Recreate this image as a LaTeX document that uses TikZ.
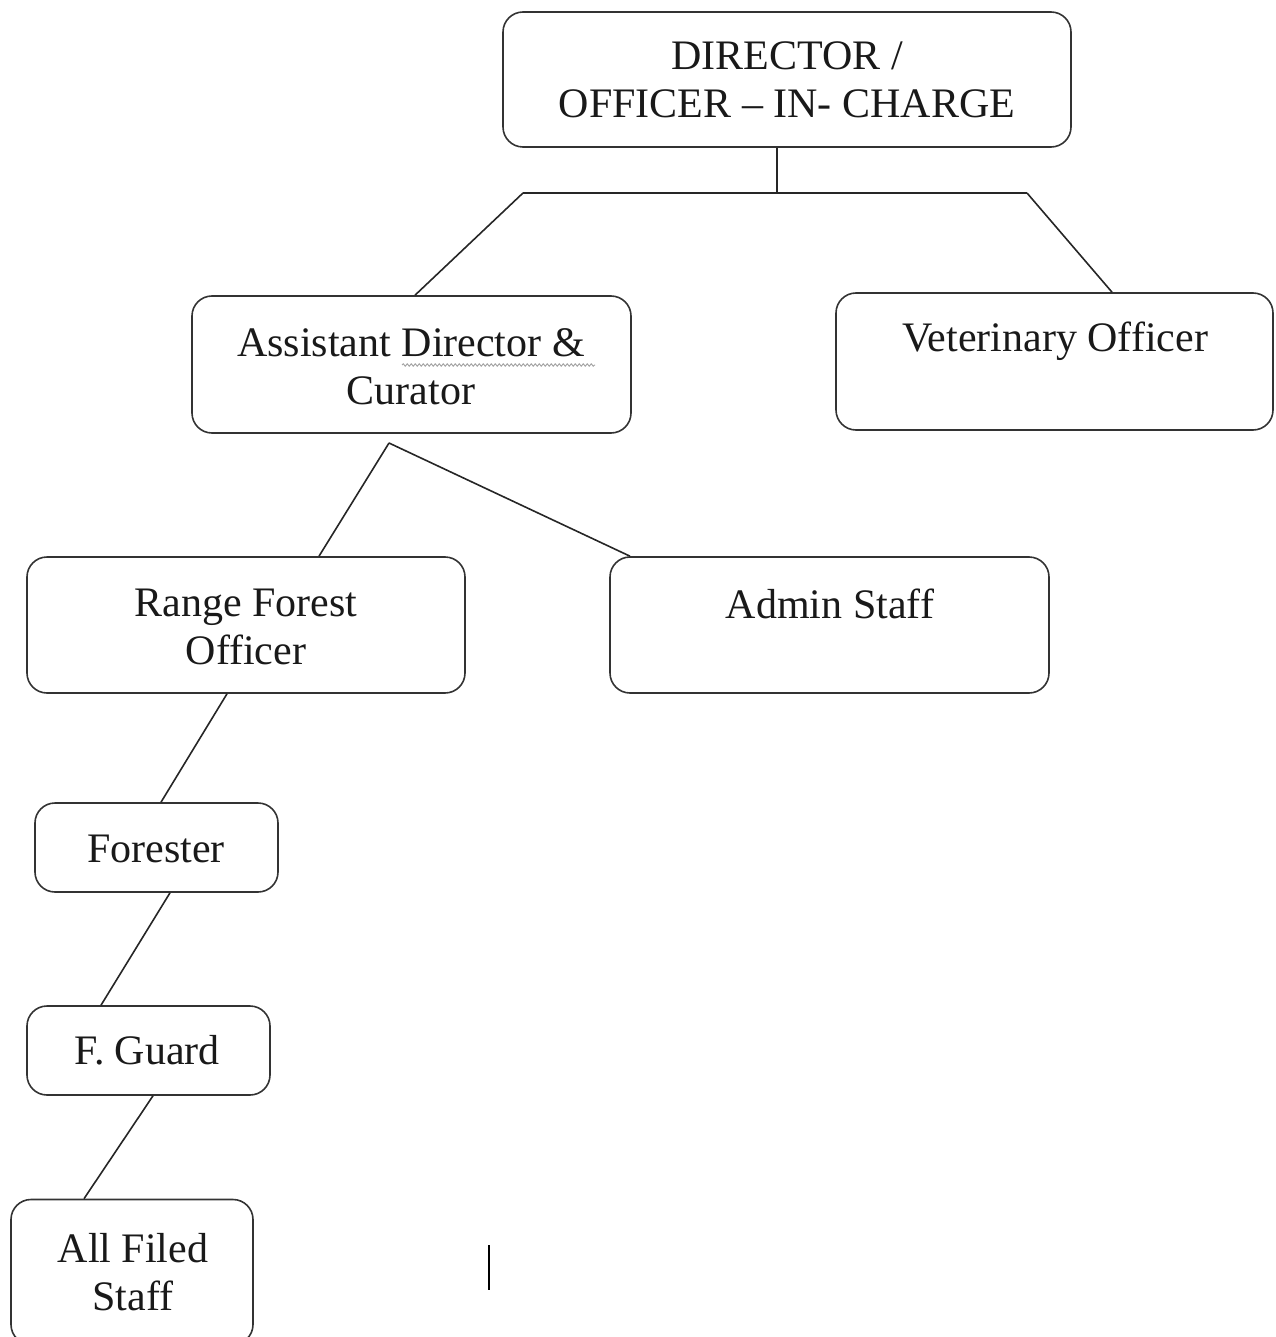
\documentclass[tikz,border=0pt]{standalone}
\usepackage{fontspec}
\setmainfont{Liberation Serif}
\usetikzlibrary{decorations.pathmorphing}
\begin{document}
\begin{tikzpicture}[x=1pt,y=-1pt,
  box/.style={draw=black!80,line width=1.6pt,rounded corners=20pt,inner sep=0pt},
  lbl/.style={align=center,font=\fontsize{42}{48}\selectfont,text=black!90,inner sep=0pt},
  conn/.style={draw=black!85,line width=1.6pt}]
\useasboundingbox (0,0) rectangle (1275,1337);
\begin{scope}
\clip (0,0) rectangle (1275,1337);
\node[box,minimum width=568pt,minimum height=135pt] (dir) at (787,79.5) {};
\node[box,minimum width=439pt,minimum height=137pt] (asst) at (411.5,364.5) {};
\node[box,minimum width=437pt,minimum height=137pt] (vet) at (1054.5,361.5) {};
\node[box,minimum width=438pt,minimum height=136pt] (rfo) at (246,625) {};
\node[box,minimum width=439pt,minimum height=136pt] (admin) at (829.5,625) {};
\node[box,minimum width=243pt,minimum height=89pt] (forester) at (156.5,847.5) {};
\node[box,minimum width=243pt,minimum height=89pt] (fguard) at (148.5,1050.5) {};
\node[box,minimum width=242pt,minimum height=145pt] (all) at (132,1272) {};
\end{scope}
\node[lbl] (tdir) at (787,80) {DIRECTOR /\\OFFICER -- IN- CHARGE};
\node[lbl] (tasst) at (411,367) {Assistant Director \&\\Curator};
\node[lbl] (tvet) at (1055,341) {Veterinary Officer};
\node[lbl] (trfo) at (246,627) {Range Forest\\Officer};
\node[lbl] (tadmin) at (830,604) {Admin Staff};
\node[lbl] (tfor) at (156,849) {Forester};
\node[lbl] (tfg) at (147,1050) {F. Guard};
\node[lbl] (tall) at (133,1272) {All Filed\\Staff};
% spell-check squiggle
\draw[gray!70,line width=1pt,decorate,decoration={snake,amplitude=1.2pt,segment length=4pt}] (402,365) -- (595,365);
% connectors
\coordinate (j) at (777,193);
\coordinate (jl) at (523,193);
\coordinate (jr) at (1027,193);
\coordinate (ja) at (389,443);
\draw[conn] ([xshift=-10pt]dir.south) -- (j);
\draw[conn] (jl) -- (jr);
\draw[conn] (jl) -- ([xshift=3.5pt]asst.north);
\draw[conn] (jr) -- ([xshift=57.5pt]vet.north);
\draw[conn] (ja) -- ([xshift=73pt]rfo.north);
\draw[conn] (ja) -- ([xshift=-199.5pt]admin.north);
\draw[conn] ([xshift=-19pt]rfo.south) -- ([xshift=4.5pt]forester.north);
\draw[conn] ([xshift=13.5pt]forester.south) -- ([xshift=-47.5pt]fguard.north);
\draw[conn] ([xshift=4.5pt]fguard.south) -- ([xshift=-48pt]all.north);
% stray text cursor
\draw[black,line width=2.2pt] (489,1245) -- (489,1290);
\end{tikzpicture}
\end{document}
